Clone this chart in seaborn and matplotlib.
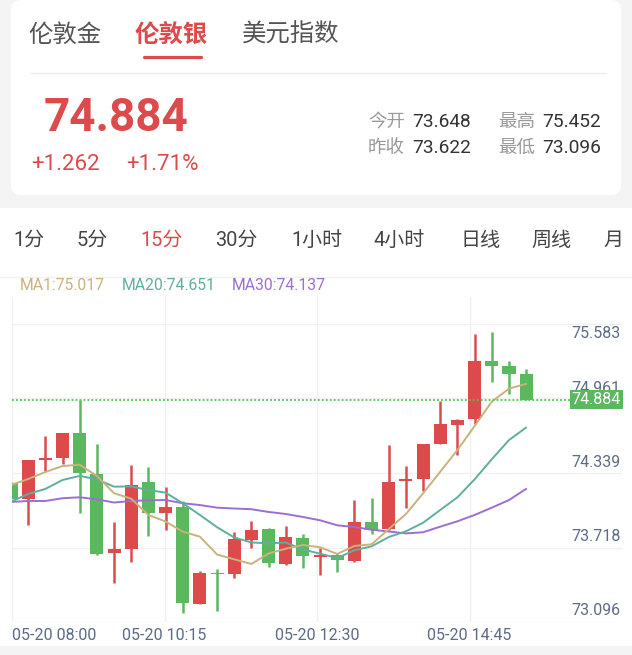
import matplotlib
matplotlib.use("Agg")
import numpy as np
import pandas as pd
import matplotlib.pyplot as plt
import seaborn as sns
from matplotlib.patches import FancyBboxPatch, Rectangle
from matplotlib.transforms import offset_copy

# 15-minute candles, London silver, 05-20 08:00 onwards
opens = [74.186, 74.052, 74.379, 74.398, 74.603, 74.261, 73.597, 73.635, 74.194, 73.932,
         73.982, 73.171, 73.434, 73.423, 73.711, 73.803, 73.507, 73.725, 73.568, 73.585,
         73.529, 73.859, 73.798, 74.199, 74.217, 74.513, 74.672, 74.720, 75.206, 75.164, 75.100]
highs = [74.190, 74.381, 74.580, 74.605, 74.882, 74.513, 73.859, 74.337, 74.323, 74.155,
         74.035, 73.451, 73.465, 73.775, 73.863, 73.809, 73.825, 73.761, 73.638, 73.597,
         74.041, 74.058, 74.502, 74.330, 74.513, 74.871, 74.720, 75.433, 75.449, 75.206, 75.139]
lows = [74.050, 73.834, 74.289, 74.345, 73.934, 73.585, 73.350, 73.526, 73.742, 73.792,
        73.096, 73.168, 73.113, 73.392, 73.641, 73.479, 73.501, 73.471, 73.415, 73.437,
        73.524, 73.761, 73.792, 73.972, 74.121, 74.513, 74.418, 74.681, 75.030, 74.935, 74.884]
closes = [74.052, 74.381, 74.393, 74.605, 74.267, 73.591, 73.633, 74.172, 73.932, 73.982,
          73.177, 73.434, 73.420, 73.714, 73.794, 73.513, 73.731, 73.574, 73.582, 73.538,
          73.859, 73.792, 74.197, 74.217, 74.513, 74.681, 74.712, 75.209, 75.167, 75.102, 74.884]

ma1 = [74.169, 74.219, 74.278, 74.328, 74.339, 74.245, 74.100, 74.054, 73.918, 73.863,
       73.778, 73.736, 73.586, 73.546, 73.507, 73.595, 73.635, 73.666, 73.647, 73.591,
       73.658, 73.672, 73.800, 73.926, 74.100, 74.281, 74.463, 74.664, 74.868, 74.977, 75.017]
ma20 = [74.029, 74.094, 74.136, 74.211, 74.245, 74.217, 74.155, 74.157, 74.127, 74.105,
        74.016, 73.918, 73.815, 73.729, 73.687, 73.680, 73.687, 73.628, 73.593, 73.557,
        73.622, 73.655, 73.733, 73.781, 73.853, 73.960, 74.066, 74.217, 74.385, 74.546, 74.651]
ma30 = [74.027, 74.035, 74.035, 74.058, 74.066, 74.049, 74.022, 74.035, 74.041, 74.043,
        74.016, 74.001, 73.979, 73.972, 73.966, 73.943, 73.926, 73.901, 73.873, 73.831,
        73.817, 73.794, 73.779, 73.763, 73.773, 73.820, 73.865, 73.918, 73.979, 74.043, 74.137]

time_labels = ["05-20 08:00", "05-20 10:15", "05-20 12:30", "05-20 14:45"]
price_labels = ["75.583", "74.961", "74.339", "73.718", "73.096"]
last_price = 74.884

top_tabs = ["伦敦金", "伦敦银", "美元指数"]
periods = ["1分", "5分", "15分", "30分", "1小时", "4小时", "日线", "周线", "月"]
quote_info = [("今开", "73.648"), ("最高", "75.452"), ("昨收", "73.622"), ("最低", "73.096")]
change_abs, change_pct = "+1.262", "+1.71%"

RED = "#dc4a4c"
GREEN = "#5cb85f"
DOT_GREEN = "#4cc552"
TAN, TEAL, PURPLE = "#c9b27c", "#5fae9f", "#9b6fd1"
AXIS_TXT = "#5d6b85"
GRID = "#f0f0f0"

sns.set_theme(style="white")
plt.rcParams["font.family"] = ["Roboto", "Noto Sans CJK SC", "DejaVu Sans"]

W, H = 632, 655
fig = plt.figure(figsize=(W / 100, H / 100), dpi=100, facecolor="#f4f4f4")

# background layer in pixel coordinates
bg = fig.add_axes([0, 0, 1, 1], zorder=0)
bg.set_xlim(0, W)
bg.set_ylim(H, 0)
bg.axis("off")
bg.add_patch(FancyBboxPatch((11, 0), 610, 195, boxstyle="round,pad=0,rounding_size=10",
                            fc="white", ec="none"))
bg.plot([30, 605], [73, 73], color="#ebebeb", lw=1)
bg.add_patch(Rectangle((0, 208), W, H - 208, fc="white", ec="none"))
bg.plot([0, W], [277, 277], color="#f0f0f0", lw=1)
bg.add_patch(Rectangle((0, 646), W, 9, fc="#f4f4f4", ec="none"))

# tabs
for x, name in zip([28, 135, 242], top_tabs):
    sel = name == "伦敦银"
    bg.text(x, 35, name, fontsize=17.6, color=RED if sel else "#555555",
            fontweight="bold" if sel else "normal", va="center", ha="left")
bg.plot([144, 201], [56.5, 56.5], color=RED, lw=2.3, solid_capstyle="round")

# quote header
bg.text(44, 118, f"{last_price:.3f}", fontsize=33, fontweight="bold", color=RED, va="center")
bg.text(31, 164, change_abs, fontsize=16, color=RED, va="center")
bg.text(126, 164, change_pct, fontsize=16, color=RED, va="center")
for (lab, val), (x, y) in zip(quote_info, [(368, 122), (498, 122), (368, 148), (498, 148)]):
    bg.text(x, y, lab, fontsize=13.3, color="#9a9a9a", va="center")
    bg.text(x + 44, y, val, fontsize=13.8, color="#333333", va="center")

# period selector
for x, p in zip([13, 76, 140, 215, 291, 373, 460, 531, 603], periods):
    bg.text(x, 240, p, fontsize=14.4, color=RED if p == "15分" else "#444444", va="center")

# MA legend
for x, lab, val, c in zip([20, 122, 232], ["MA1", "MA20", "MA30"],
                          [ma1[-1], ma20[-1], ma30[-1]], [TAN, TEAL, PURPLE]):
    bg.text(x, 286, f"{lab}:{val:.3f}", fontsize=11.3, color=c, va="center")

# chart panel
ax = fig.add_axes([12 / W, (H - 622) / H, 610 / W, 325 / H], zorder=2)
ax.set_facecolor("white")
for s in ax.spines.values():
    s.set_visible(False)
ax.set_xticks([])
ax.set_yticks([])
ax.set_xlim(0.058, 35.58)
ax.set_ylim(73.0205, 75.745)

for f in [0.0, 0.25, 0.5, 0.75]:
    ax.plot([f, f], [0, 1], transform=ax.transAxes, color=GRID, lw=1, zorder=0)
for f in [0.0, 0.2292, 0.4585, 0.6877, 0.9169]:
    ax.plot([0, 1], [f, f], transform=ax.transAxes, color=GRID, lw=1, zorder=0)

df = pd.DataFrame({"open": opens, "high": highs, "low": lows, "close": closes})
colors = np.where(df["close"] >= df["open"], RED, GREEN)
body_lo = df[["open", "close"]].min(axis=1)
body_h = (df["close"] - df["open"]).abs().clip(lower=0.013)
ax.vlines(df.index, df["low"], df["high"], colors=colors, lw=1.8, zorder=3)
ax.bar(df.index, body_h, bottom=body_lo, width=0.76, color=colors, lw=0, zorder=4)

for vals, c in [(ma30, PURPLE), (ma20, TEAL), (ma1, TAN)]:
    sns.lineplot(x=df.index, y=vals, ax=ax, color=c, lw=1.4, zorder=5, legend=False)

ax.axhline(last_price, xmin=0, xmax=(572 - 12) / 610, color=DOT_GREEN, lw=1.3,
           ls=(0, (1, 1.2)), zorder=6)

ytrans = ax.get_yaxis_transform()
for i, lab in enumerate(price_labels):
    dy = -17 if i == 0 else 2
    ax.text(1.0, float(lab), lab, transform=offset_copy(ytrans, fig=fig, x=-1, y=dy, units="dots"),
            ha="right", va="center", fontsize=11.5, color=AXIS_TXT, zorder=7)
ax.text(1.0, last_price, f"{last_price:.3f}",
        transform=offset_copy(ytrans, fig=fig, x=-1, y=0, units="dots"),
        ha="right", va="center", fontsize=11.5, color="white", zorder=8,
        bbox=dict(boxstyle="square,pad=0.12", fc=GREEN, ec="none"))

for f, lab in zip([0.0, 0.25, 0.5, 0.75], time_labels):
    ax.text(f, -0.04, lab, transform=ax.transAxes, ha="left" if f == 0 else "center",
            va="center", fontsize=11.5, color=AXIS_TXT)

fig.savefig("out.png", dpi=100, facecolor=fig.get_facecolor())
